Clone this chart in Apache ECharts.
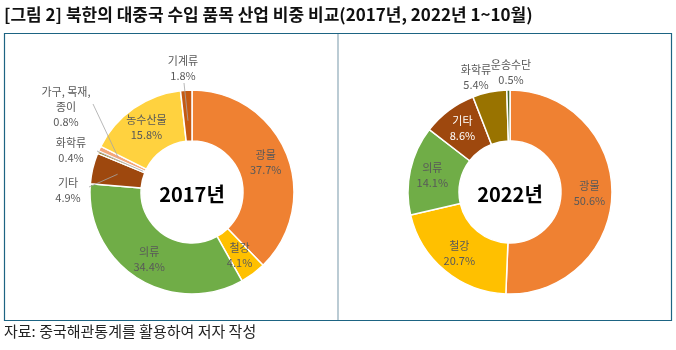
<!DOCTYPE html>
<html><head><meta charset="utf-8">
<script src="https://cdn.jsdelivr.net/npm/echarts@6/dist/echarts.min.js"></script>
<style>html,body{margin:0;padding:0;background:#fff}#c{width:676px;height:350px}</style>
</head><body><div id="c"></div>
<script>
// ---- data ----
const categories2017 = ['광물','철강','의류','기타','화학류','가구, 목재,\n종이','농수산물','기계류'];
const values2017 = [37.7, 4.1, 34.4, 4.9, 0.4, 0.8, 15.8, 1.8];
const categories2022 = ['광물','철강','의류','기타','화학류','운송수단'];
const values2022 = [50.6, 20.7, 14.1, 8.6, 5.4, 0.5];

// ---- styles / layout ----
const colors = {'광물':'#EF8132','철강':'#FFC000','의류':'#70AD47','기타':'#9E480E','화학류':'#997300','가구, 목재,\n종이':'#F4A77A','농수산물':'#FFD23F','기계류':'#C55A11','운송수단':'#43682B'};
const FONT = '"Noto Sans CJK KR", "Noto Sans", sans-serif';
const CENTERS = [[192,192],[510,192]];
const R_IN = 51, R_OUT = 102;
// outside label anchors (label block centre) and leader-line end near label; lineR = fraction of ring where line enters slice
const outsideLabels = [
  { '기계류':{x:183,y:68,end:[184,83],lineR:0.4},
    '가구, 목재,\n종이':{x:66,y:107,end:[93,104],lineR:0.6},
    '화학류':{x:71,y:150,end:[97,151],lineR:0.04},
    '기타':{x:68,y:190,end:[89,187],lineR:0.5} },
  { '화학류':{x:476,y:77},
    '운송수단':{x:511,y:72} }
];
const whiteLabel = ['2022:기타'];

function build(cats, vals, outs, year){
  return cats.map((c,i)=>{
    const o = {name:c, value:vals[i], itemStyle:{color:colors[c]}};
    if (outs[c]) o.label = {position:'outside'};
    if (whiteLabel.includes(year+':'+c)) o.label = {color:'#fff'};
    return o;
  });
}
function midAngle(vals, idx){
  const total = vals.reduce((a,b)=>a+b,0);
  let cum = 0; for (let i=0;i<idx;i++) cum += vals[i];
  return (cum + vals[idx]/2)/total*2*Math.PI; // clockwise from 12 o'clock
}
const allVals = [values2017, values2022];
const allCats = [categories2017, categories2022];
function layoutFn(p){
  const s = p.seriesIndex, name = allCats[s][p.dataIndex];
  const a = outsideLabels[s][name];
  if (!a) return {hideOverlap:false};
  return {x:a.x, y:a.y, align:'center', verticalAlign:'middle', hideOverlap:false};
}
// leader lines computed from slice angles
const leaderLines = [];
allCats.forEach((cats,s)=>{
  cats.forEach((c,i)=>{
    const a = outsideLabels[s][c];
    if (!a || !a.end) return;
    const ang = midAngle(allVals[s], i);
    const r = R_IN + (R_OUT-R_IN)*a.lineR;
    const ctr = CENTERS[s];
    const ip = [ctr[0] + r*Math.sin(ang), ctr[1] - r*Math.cos(ang)];
    leaderLines.push({type:'polyline', z:100, shape:{points:[a.end, ip]}, style:{stroke:'#A6A6A6', lineWidth:0.8, fill:null}});
  });
});
const common = {
  type:'pie', radius:[R_IN,R_OUT], startAngle:90, clockwise:true, avoidLabelOverlap:false,
  itemStyle:{borderColor:'#fff', borderWidth:1.5},
  label:{show:true, position:'inside', formatter:p=>p.name+'\n'+p.value.toFixed(1)+'%', color:'#595959', fontSize:11, lineHeight:15, fontFamily:FONT},
  labelLine:{show:false},
  labelLayout: layoutFn,
  emphasis:{disabled:true}, animation:false
};
const chart = echarts.init(document.getElementById('c'));
chart.setOption({
  animation:false,
  graphic:[
    {type:'rect', shape:{x:4.5,y:33.5,width:667,height:287}, style:{fill:'none', stroke:'#1D6483', lineWidth:1.2}},
    {type:'line', shape:{x1:338,y1:34,x2:338,y2:320}, style:{stroke:'#8EA9B8', lineWidth:1.2}},
    {type:'text', left:4, top:6, style:{text:'[그림 2] 북한의 대중국 수입 품목 산업 비중 비교(2017년, 2022년 1~10월)', font:'bold 17px '+FONT, fill:'#111'}},
    {type:'text', left:4, top:324, style:{text:'자료: 중국해관통계를 활용하여 저자 작성', font:'15px '+FONT, fill:'#222'}},
    {type:'text', x:CENTERS[0][0], y:194, style:{text:'2017년', font:'bold 20px '+FONT, fill:'#000', align:'center', verticalAlign:'middle'}},
    {type:'text', x:CENTERS[1][0], y:194, style:{text:'2022년', font:'bold 20px '+FONT, fill:'#000', align:'center', verticalAlign:'middle'}}
  ].concat(leaderLines),
  series:[
    Object.assign({}, common, {center:CENTERS[0], data:build(categories2017, values2017, outsideLabels[0], 2017)}),
    Object.assign({}, common, {center:CENTERS[1], data:build(categories2022, values2022, outsideLabels[1], 2022)})
  ]
});
</script></body></html>
